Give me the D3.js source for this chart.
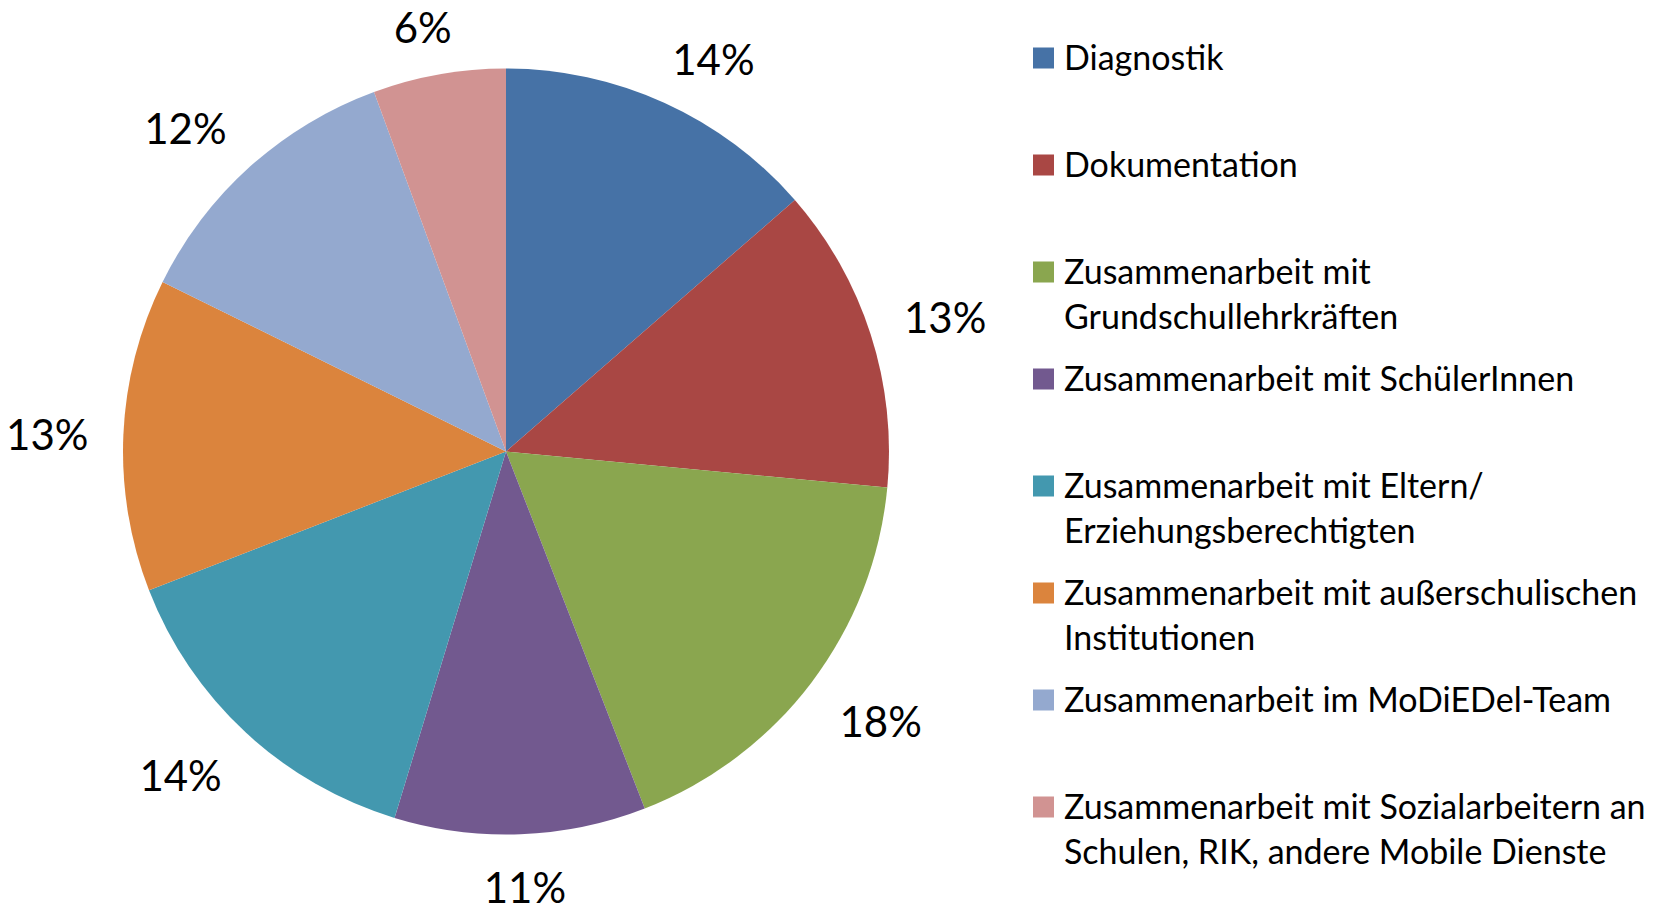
<!DOCTYPE html>
<html>
<head>
<meta charset="utf-8">
<script src="https://cdn.jsdelivr.net/npm/d3@7"></script>
<style>
  body { margin: 0; background: #fff; }
  text { font-family: Lato, "Open Sans", sans-serif; fill: #000; }
</style>
</head>
<body>
<div id="chart"></div>
<script>
// categories (legend text, "\n" = line break as in the original)
const categories = [
    "Diagnostik",
    "Dokumentation",
    "Zusammenarbeit mit\nGrundschullehrkräften",
    "Zusammenarbeit mit SchülerInnen",
    "Zusammenarbeit mit Eltern/\nErziehungsberechtigten",
    "Zusammenarbeit mit außerschulischen\nInstitutionen",
    "Zusammenarbeit im MoDiEDel-Team",
    "Zusammenarbeit mit Sozialarbeitern an\nSchulen, RIK, andere Mobile Dienste"
]
// share in percent
const shares = [13.6, 12.9, 17.6, 10.6, 14.4, 13.2, 12.1, 5.6]
const colours = ["#4672A6", "#A94744", "#8AA64F", "#72598F", "#4398AF", "#DB843D", "#94A9CF", "#D19392"]

function chart(id) {
    const width = 1677
    const height = 905
    const cx = 506, cy = 451.5, radius = 383
    const gap = 35        // distance between pie edge and label box
    const labelH = 30     // height of the digits

    const data = categories.map((c, i) => ({name: c, value: shares[i], colour: colours[i]}))
    const total = d3.sum(data, d => d.value)
    const fmt = d3.format(".0%")

    const svg = d3.select(id).append("svg")
        .attr("width", width)
        .attr("height", height)
        .attr("viewBox", [0, 0, width, height])

    const pie = d3.pie().sort(null).value(d => d.value)
    const arc = d3.arc().innerRadius(0).outerRadius(radius)

    const g = svg.append("g").attr("transform", `translate(${cx},${cy})`)

    g.selectAll("path")
        .data(pie(data))
        .join("path")
            .attr("d", arc)
            .attr("fill", d => d.data.colour)

    //percentage labels outside the slices, pushed out so the box clears the pie (like Excel)
    const clamp = t => Math.max(-1, Math.min(1, 2 * t))
    g.selectAll("text.pct")
        .data(pie(data))
        .join("text")
            .attr("class", "pct")
            .attr("text-anchor", "middle")
            .attr("dy", "0.44em")
            .style("font-size", "42px")
            .text(d => fmt(d.data.value / total))
            .attr("transform", function(d) {
                const a = (d.startAngle + d.endAngle) / 2
                const w = this.getComputedTextLength()
                const x = Math.sin(a) * (radius + gap) + clamp(Math.sin(a)) * w / 2
                const y = -Math.cos(a) * (radius + gap) + clamp(-Math.cos(a)) * labelH / 2
                return `translate(${x},${y})`
            })

    //legend
    const legend = svg.append("g").attr("transform", "translate(1033,0)")
    const item = legend.selectAll("g")
        .data(data)
        .join("g")
            .attr("transform", (d, i) => `translate(0,${69.5 + i * 107})`)

    item.append("rect")
        .attr("x", 0)
        .attr("y", -22)
        .attr("width", 21)
        .attr("height", 21)
        .attr("fill", d => d.colour)

    item.append("text")
        .style("font-size", "34px")
        .selectAll("tspan")
        .data(d => d.name.split("\n"))
        .join("tspan")
            .attr("x", 31)
            .attr("dy", (d, i) => i == 0 ? 0 : 45)
            .text(d => d)

    return svg.node()
}

chart("#chart")
</script>
</body>
</html>
